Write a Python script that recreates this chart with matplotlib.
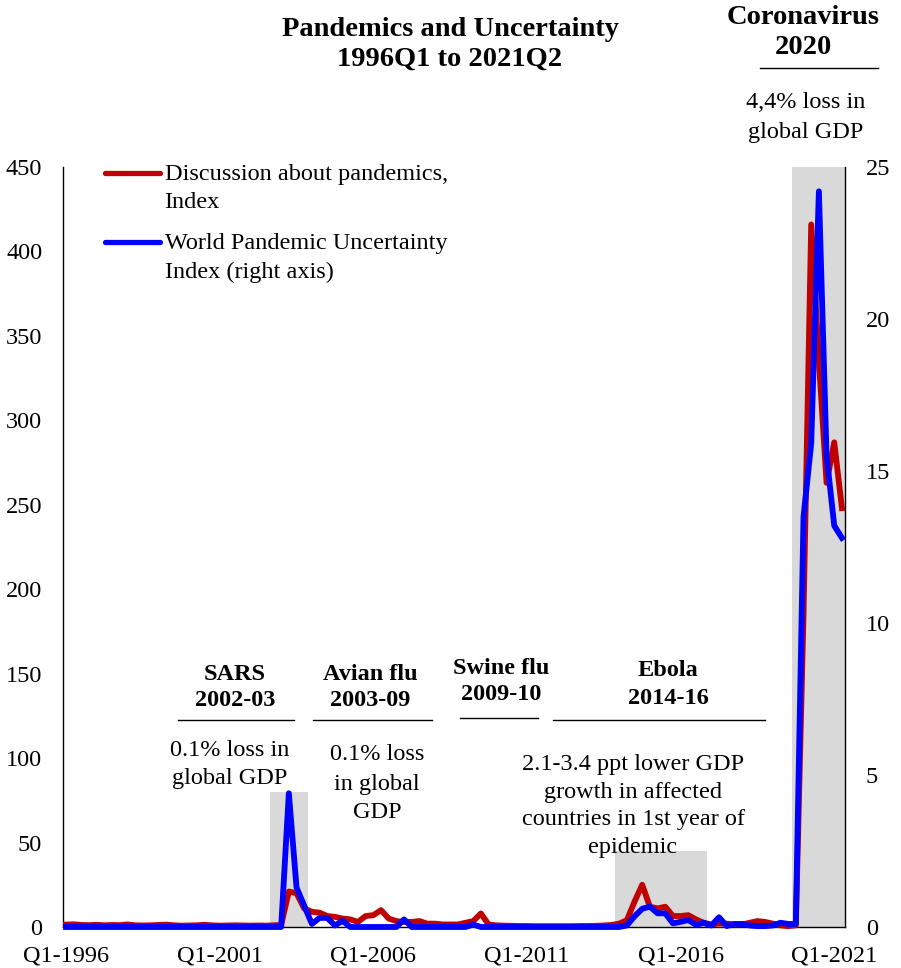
import numpy as np
import matplotlib
matplotlib.use("Agg")
import matplotlib.pyplot as plt
from matplotlib.lines import Line2D

plt.rcParams['font.family'] = ['Liberation Serif', 'DejaVu Serif']

W, H = 901, 968

# quarterly sample, 1996Q1 .. 2021Q2
quarters = [f'{y}Q{q}' for y in range(1996, 2022) for q in range(1, 5)][:102]
tick_quarters = ['1996Q1', '2001Q1', '2006Q1', '2011Q1', '2016Q1', '2021Q1']
tick_labels = ['Q1-1996', 'Q1-2001', 'Q1-2006', 'Q1-2011', 'Q1-2016', 'Q1-2021']

# discussion about pandemics, index (left axis)
discussion = [
    1.4, 1.6, 1.2, 1.1, 1.3, 1.0, 1.2, 1.1, 1.5, 1.0, 0.9, 1.0, 1.2, 1.4,
    1.0, 0.8, 0.9, 1.0, 1.3, 1.0, 0.8, 0.9, 1.0, 0.9, 0.8, 0.9, 0.8, 1.0,
    1.2, 21, 20, 11, 9, 8.5, 6.5, 6, 5, 4.5, 3, 6.5, 7, 10,
    5, 3.5, 3, 3, 3.5, 2, 2, 1.5, 1.5, 1.5, 2.5, 3.5, 8, 1.5,
    1.0, 0.8, 0.7, 0.6, 0.6, 0.5, 0.5, 0.5, 0.5, 0.5, 0.5, 0.6, 0.6, 0.7,
    0.9, 1.2, 2, 4, 15, 25, 12, 11, 12, 6.5, 6.5, 7, 4.5, 2.5,
    1.5, 2, 2, 1.5, 1.5, 2.5, 3.5, 3, 2, 1, 0.5, 1,
    185, 416, 335, 263, 287, 248,
]

# world pandemic uncertainty index (right axis)
wpui = (
    [0.0] * 29
    + [4.4, 1.3, 0.7, 0.1, 0.3, 0.3, 0.05, 0.2]
    + [0.0] * 7 + [0.25] + [0.0] * 8 + [0.08] + [0.0] * 19
    + [0.05, 0.35, 0.6, 0.67, 0.45, 0.45, 0.12, 0.17, 0.23, 0.07, 0.14,
       0.05, 0.32, 0.03, 0.1, 0.1, 0.05, 0.03, 0.03, 0.05, 0.14, 0.1, 0.1]
    + [13.5, 15.9, 24.2, 15.5, 13.2, 12.8]
)

# shaded pandemic episodes (left-axis height)
episode_start = ['2002Q4', '2014Q1', '2019Q4']
episode_end = ['2003Q4', '2016Q4', '2021Q2']
episode_height = [80, 45, 450]

x = np.arange(len(quarters))

fig = plt.figure(figsize=(W / 100, H / 100), dpi=100)
ax = fig.add_axes([63 / W, 1 - 927 / H, (845 - 63) / W, (927 - 167) / H])
ax2 = ax.twinx()

for s, e, h in zip(episode_start, episode_end, episode_height):
    idx = np.arange(quarters.index(s), quarters.index(e) + 1)
    ax.bar(idx, [h] * len(idx), width=1.0, color='#d9d9d9', linewidth=0, zorder=0)

l1, = ax.plot(x, discussion, color='#c00000', lw=4.2, zorder=3, clip_on=False,
              solid_joinstyle='round', label='Discussion about pandemics,\nIndex')
l2, = ax2.plot(x, wpui, color='#0000ff', lw=4.2, zorder=3, clip_on=False,
               solid_joinstyle='round', label='World Pandemic Uncertainty\nIndex (right axis)')

ax.set_xlim(-0.4, 101.4)
ax.set_ylim(0, 450)
ax2.set_ylim(0, 25)
ax.set_yticks(np.arange(0, 451, 50))
ax2.set_yticks(np.arange(0, 26, 5))
ax.set_xticks([quarters.index(q) for q in tick_quarters])
ax.set_xticklabels(tick_labels)

ax.tick_params(axis='both', length=0, labelsize=17.5, pad=15)
ax.tick_params(axis='x', pad=13)
ax2.tick_params(axis='y', length=0, labelsize=17.5, pad=15)

for a in (ax, ax2):
    a.spines['top'].set_visible(False)
ax.spines['right'].set_visible(False)
ax2.spines['left'].set_visible(False)
ax2.spines['bottom'].set_visible(False)
for sp in (ax.spines['left'], ax.spines['bottom'], ax2.spines['right']):
    sp.set_color('black')
    sp.set_linewidth(1.0)

leg = ax.legend([l1, l2], [l1.get_label(), l2.get_label()], loc='upper left',
                bbox_to_anchor=(105 / W, 1 - 164 / H), bbox_transform=fig.transFigure,
                frameon=False, fontsize=17.5, handlelength=2.25, handletextpad=0.2,
                labelspacing=0.83, borderpad=0, borderaxespad=0)
for t in leg.get_texts():
    t.set_linespacing(1.45)
for ln in leg.get_lines():
    ln.set_linewidth(3.8)
    ln.set_solid_capstyle('round')
    ln.set_ydata(np.asarray(ln.get_ydata()) + 11)


def note(xc, baselines, lines, size=17.5, weight='normal'):
    for yb, s in zip(baselines, lines):
        fig.text(xc / W, 1 - yb / H, s, ha='center', va='baseline',
                 fontsize=size, fontweight=weight)


def rule(x0, x1, y):
    fig.add_artist(Line2D([x0 / W, x1 / W], [1 - y / H] * 2, color='black', lw=1.0))


note(450, [36, 66], ['Pandemics and Uncertainty', '1996Q1 to 2021Q2'], size=20.5, weight='bold')

note(803, [24, 54], ['Coronavirus', '2020'], size=20.5, weight='bold')
rule(760, 878, 68)
note(806, [108, 138], ['4,4% loss in', 'global GDP'])

note(235, [680, 706], ['SARS', '2002-03'], weight='bold')
rule(178, 294, 720)
note(230, [756, 784], ['0.1% loss in', 'global GDP'])

note(370, [680, 706], ['Avian flu', '2003-09'], weight='bold')
rule(313, 432, 720)
note(377, [760, 790, 818], ['0.1% loss', 'in global', 'GDP'])

note(501, [674, 700], ['Swine flu', '2009-10'], weight='bold')
rule(460, 538, 718)

note(668, [676, 704], ['Ebola', '2014-16'], weight='bold')
rule(553, 765, 720)
note(633, [770, 798, 825, 853], ['2.1-3.4 ppt lower GDP', 'growth in affected',
                                 'countries in 1st year of', 'epidemic'])

fig.savefig('out.png', dpi=100)
